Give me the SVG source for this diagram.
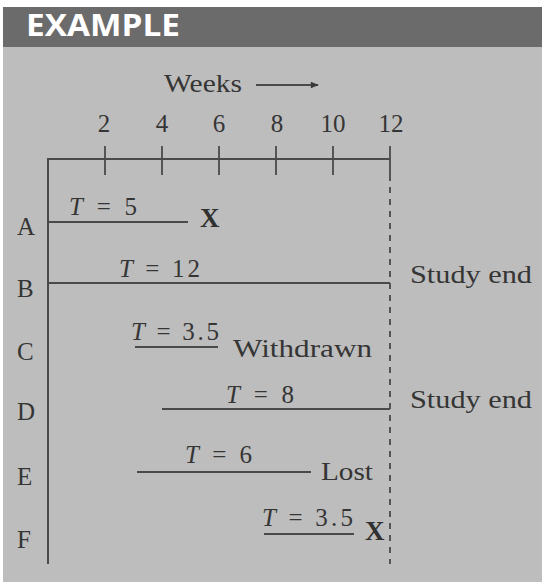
<svg xmlns="http://www.w3.org/2000/svg" width="542" height="582" viewBox="0 0 542 582">
<style>
.t{font-family:"Liberation Serif","Times New Roman",serif;font-size:25px;fill:#353535}
.i{font-style:italic}
.x{font-family:"Liberation Serif",serif;font-size:27px;font-weight:bold;fill:#303030}
.ln{stroke:#4a4a4a;stroke-width:2;fill:none}
.tk{stroke:#4a4a4a;stroke-width:1.8}
</style>
<defs>
<marker id="ah" viewBox="0 0 10 10" refX="9" refY="5" markerWidth="10" markerHeight="8" markerUnits="userSpaceOnUse" orient="auto">
<path d="M0,1 L10,5 L0,9 Z" fill="#3a3a3a"/>
</marker>
</defs>
<rect x="0" y="0" width="542" height="582" fill="#ffffff"/>
<rect x="3" y="7" width="539" height="575" fill="#bdbdbd"/>
<rect x="3" y="7" width="539" height="40" fill="#6b6b6b"/>
<text x="26" y="36" textLength="154" lengthAdjust="spacingAndGlyphs" style="font-family:'Open Sans',sans-serif;font-weight:bold;font-size:30px;fill:#ffffff">EXAMPLE</text>

<g id="axis">
<text class="t" x="164" y="92" textLength="78" lengthAdjust="spacingAndGlyphs">Weeks</text>
<line class="ln" x1="256" y1="85" x2="318" y2="85" stroke-width="1.6" marker-end="url(#ah)"/>
<text class="t" x="104" y="132" text-anchor="middle">2</text>
<text class="t" x="162" y="132" text-anchor="middle">4</text>
<text class="t" x="219" y="132" text-anchor="middle">6</text>
<text class="t" x="277" y="132" text-anchor="middle">8</text>
<text class="t" x="333" y="132" text-anchor="middle">10</text>
<text class="t" x="391" y="132" text-anchor="middle">12</text>
<line class="ln" x1="48" y1="159" x2="390" y2="159"/>
<line class="ln" x1="48" y1="158" x2="48" y2="564"/>
<line class="tk" x1="105" y1="146" x2="105" y2="175"/>
<line class="tk" x1="162" y1="146" x2="162" y2="175"/>
<line class="tk" x1="219" y1="146" x2="219" y2="175"/>
<line class="tk" x1="276" y1="146" x2="276" y2="175"/>
<line class="tk" x1="333" y1="146" x2="333" y2="175"/>
<line class="tk" x1="390" y1="146" x2="390" y2="175"/>
<line x1="390" y1="175" x2="390" y2="564" stroke="#4a4a4a" stroke-width="1.8" stroke-dasharray="6,6"/>
</g>

<g id="rowA">
<text class="t" x="17" y="235">A</text>
<line class="ln" x1="48" y1="222" x2="188" y2="222"/>
<text class="t" x="69" y="215" textLength="68"><tspan class="i">T</tspan> = 5</text>
<text class="x" x="200" y="227">X</text>
</g>

<g id="rowB">
<text class="t" x="17" y="297">B</text>
<line class="ln" x1="48" y1="283" x2="390" y2="283"/>
<text class="t" x="119" y="277" textLength="81"><tspan class="i">T</tspan> = 12</text>
<text class="t" x="410" y="283" textLength="122" lengthAdjust="spacingAndGlyphs">Study end</text>
</g>

<g id="rowC">
<text class="t" x="17" y="360">C</text>
<line class="ln" x1="135" y1="347" x2="218" y2="347"/>
<text class="t" x="131" y="340" textLength="88"><tspan class="i">T</tspan> = 3.5</text>
<text class="t" x="233" y="357" textLength="139" lengthAdjust="spacingAndGlyphs">Withdrawn</text>
</g>

<g id="rowD">
<text class="t" x="17" y="420">D</text>
<line class="ln" x1="162" y1="409" x2="390" y2="409"/>
<text class="t" x="226" y="403" textLength="68"><tspan class="i">T</tspan> = 8</text>
<text class="t" x="410" y="408" textLength="122" lengthAdjust="spacingAndGlyphs">Study end</text>
</g>

<g id="rowE">
<text class="t" x="17" y="485">E</text>
<line class="ln" x1="137" y1="472" x2="311" y2="472"/>
<text class="t" x="185" y="463" textLength="67"><tspan class="i">T</tspan> = 6</text>
<text class="t" x="321" y="480" textLength="52" lengthAdjust="spacingAndGlyphs">Lost</text>
</g>

<g id="rowF">
<text class="t" x="17" y="548">F</text>
<line class="ln" x1="264" y1="534" x2="354" y2="534"/>
<text class="t" x="262" y="526" textLength="91"><tspan class="i">T</tspan> = 3.5</text>
<text class="x" x="365" y="540">X</text>
</g>
</svg>
